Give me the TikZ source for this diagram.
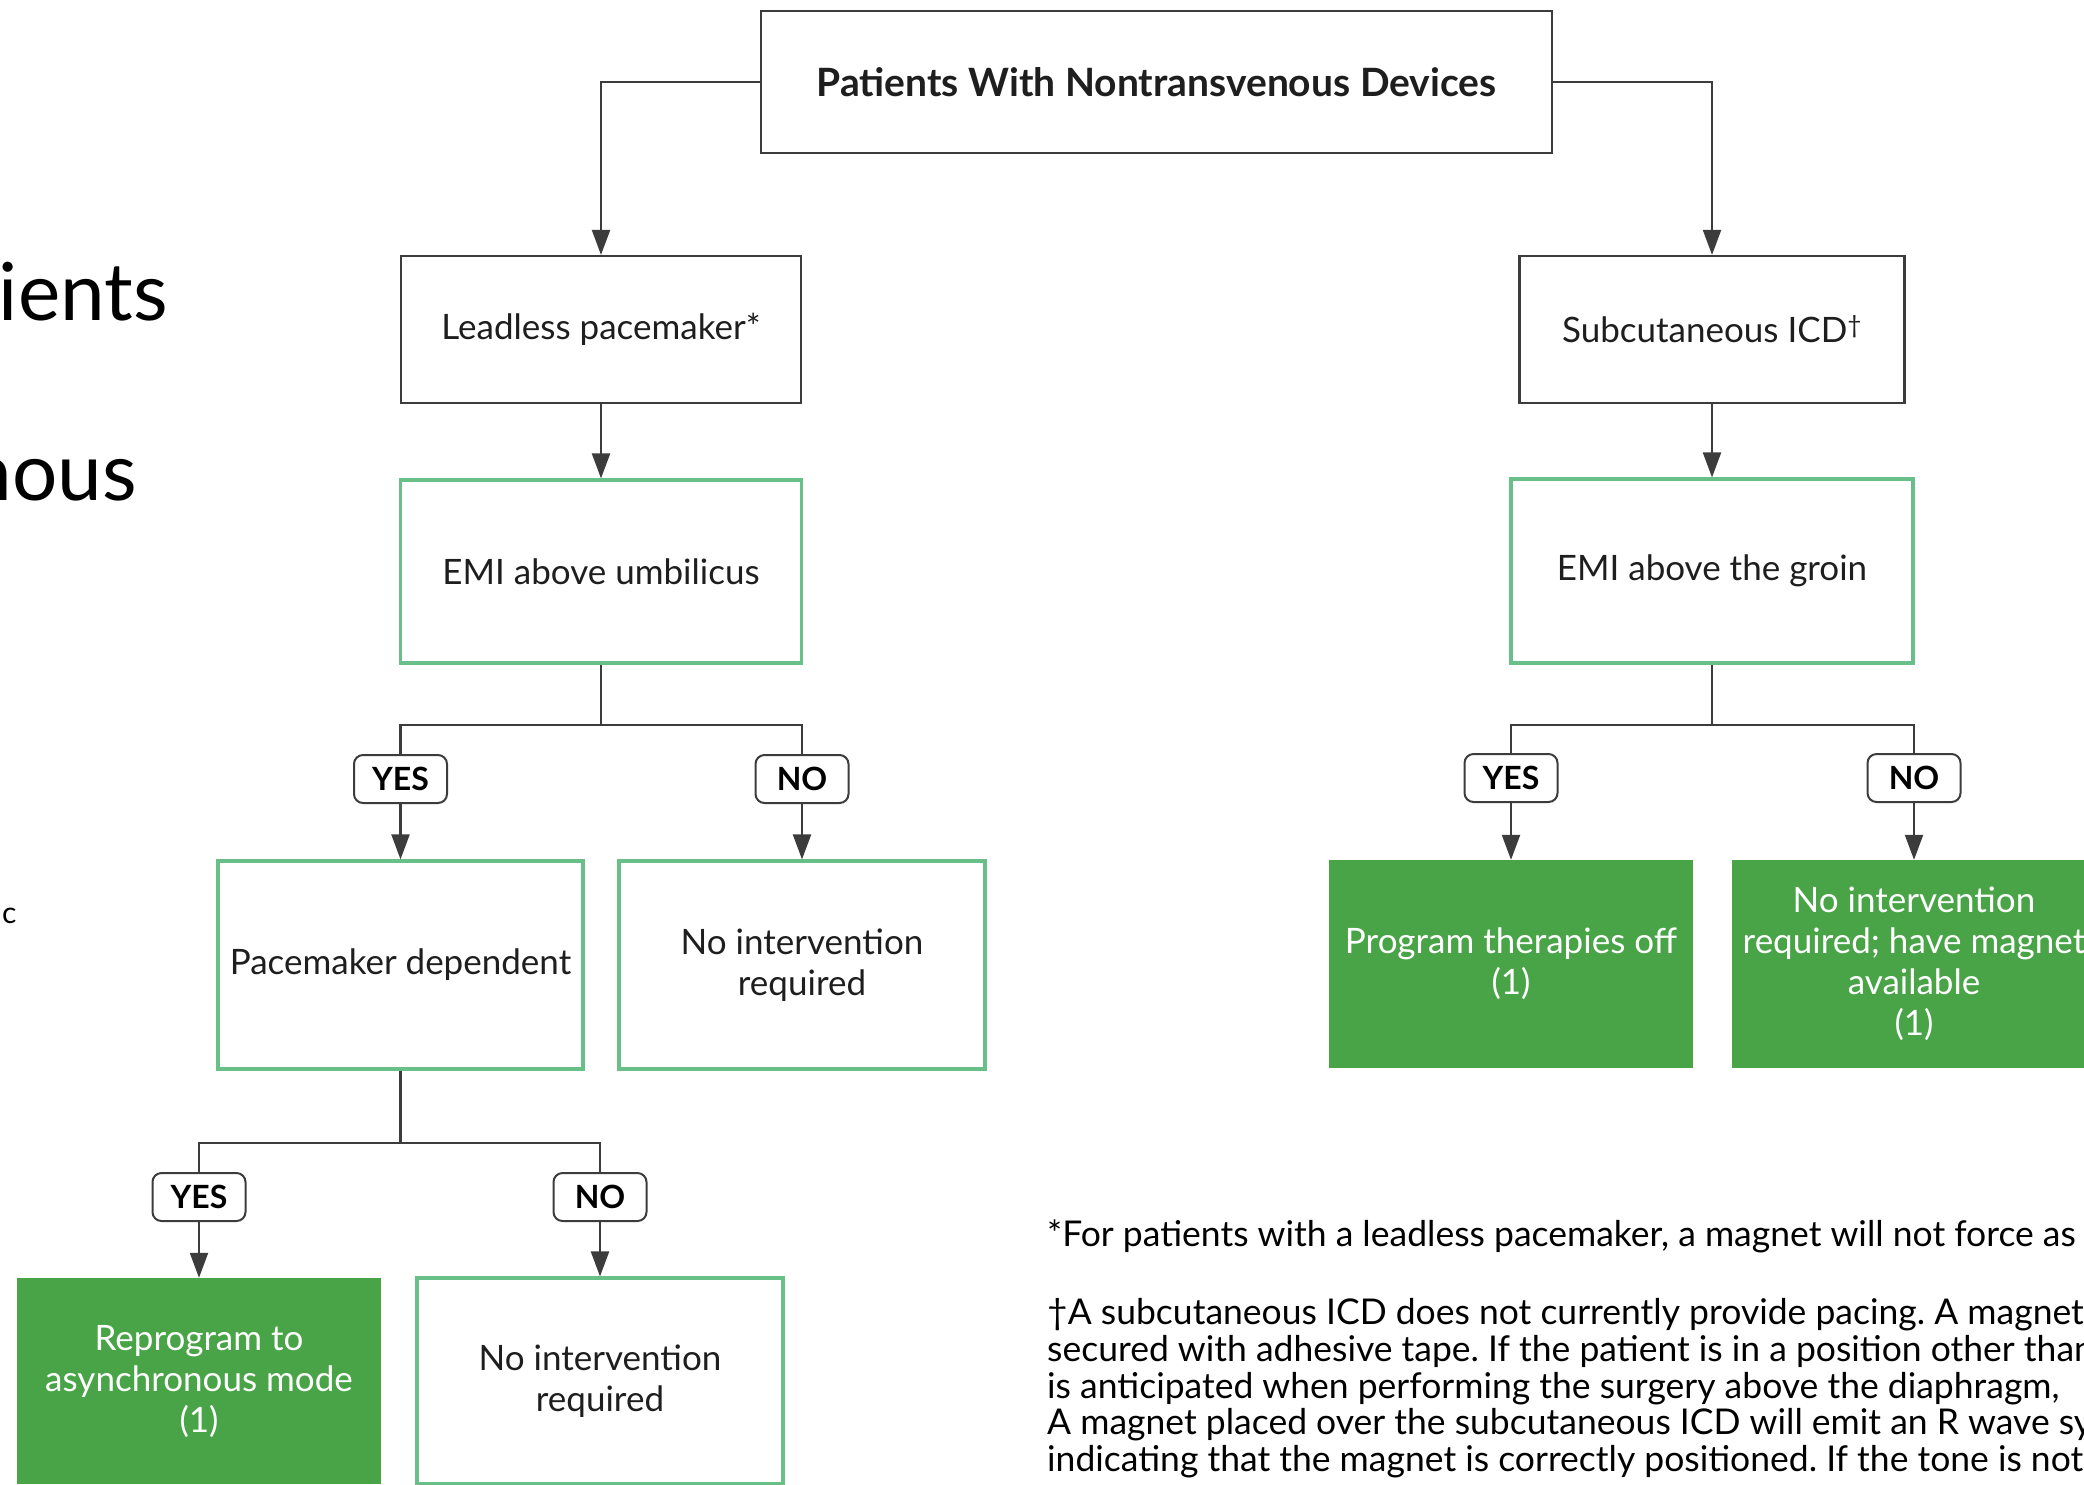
\documentclass[tikz,border=0pt]{standalone}
\usepackage{fontspec}
\setmainfont{Lato}
\usetikzlibrary{arrows.meta}
\definecolor{mint}{RGB}{104,192,136}
\definecolor{leaf}{RGB}{72,164,70}
\definecolor{ink}{RGB}{30,30,30}
\definecolor{linec}{RGB}{60,60,60}
\frenchspacing
\begin{document}
\begin{tikzpicture}[x=1pt,y=-1pt,
  boxtext/.style={align=center, inner sep=0pt, text=ink, font=\fontsize{35}{41}\selectfont},
  blackbox/.style={boxtext, draw=linec, line width=2.2pt, fill=white},
  greenbox/.style={boxtext, draw=mint, line width=3.2pt, fill=white},
  fillbox/.style={boxtext, draw=none, fill=leaf, text=white},
  lab/.style={draw=linec, line width=2pt, rounded corners=9pt, fill=white, minimum width=93pt, minimum height=48pt, inner sep=0pt, text=black, font=\bfseries\fontsize{32}{32}\selectfont},
  conn/.style={draw=linec, line width=2.2pt},
  arr/.style={conn, -{Triangle[width=18pt,length=25pt]}},
  fn/.style={anchor=base west, inner sep=0pt, text=black, font=\fontsize{35.5}{37}\selectfont},
  side/.style={inner sep=0pt, text=black},
]
\useasboundingbox (0,0) rectangle (2084,1484);
\clip (0,0) rectangle (2084,1484);
\fill[white] (0,0) rectangle (2084,1484);

% side fragments
\node[side, anchor=base east, font=\fontsize{80}{80}\selectfont] (t1) at (168,320) {ients};
\node[side, anchor=base east, font=\fontsize{80}{80}\selectfont] (t2) at (137,500) {nous};
\node[side, anchor=base west, font=\fontsize{30}{30}\selectfont] (t3) at (2,923) {c};

% boxes
\node[blackbox, minimum width=791pt, minimum height=142pt, font=\bfseries\fontsize{39}{44}\selectfont] (top) at (1156.5,82) {Patients With Nontransvenous Devices};
\node[blackbox, minimum width=400pt, minimum height=147pt] (lead) at (601,329.5) {Leadless pacemaker*};
\node[greenbox, minimum width=401pt, minimum height=183pt] (emiu) at (601,571.5) {EMI above umbilicus};
\node[blackbox, minimum width=385pt, minimum height=147pt] (subc) at (1712,329.5) {Subcutaneous ICD\textsuperscript{†}};
\node[greenbox, minimum width=402pt, minimum height=184pt] (emig) at (1712,571) {EMI above the groin};

\node[lab] (yes1) at (400.5,779) {YES};
\node[lab] (no1) at (802,779) {NO};
\node[greenbox, minimum width=365pt, minimum height=208pt] (pd) at (400.5,965) {Pacemaker dependent};
\node[greenbox, minimum width=366pt, minimum height=208pt] (ni1) at (802,965) {No intervention\\required};

\node[lab] (yes2) at (199,1197) {YES};
\node[lab] (no2) at (600,1197) {NO};
\node[fillbox, minimum width=364pt, minimum height=206pt] (rep) at (199,1381) {Reprogram to\\asynchronous mode\\(1)};
\node[greenbox, minimum width=366pt, minimum height=206pt] (ni2) at (600,1381) {No intervention\\required};

\node[lab] (yes3) at (1511,778) {YES};
\node[lab] (no3) at (1914,778) {NO};
\node[fillbox, minimum width=364pt, minimum height=208pt] (pto) at (1511,964) {Program therapies off\\(1)};
\node[fillbox, minimum width=364pt, minimum height=208pt] (nim) at (1914,964) {No intervention\\required; have magnet\\available\\(1)};

% connectors
\draw[arr] (top.west) -| (lead.north);
\draw[arr] (top.east) -| (subc.north);
\draw[arr] (lead.south) -- (emiu.north);
\draw[arr] (subc.south) -- (emig.north);

\coordinate (j1) at (601,725);
\draw[conn] (emiu.south) -- (j1);
\draw[conn] (yes1.north) |- (j1) -| (no1.north);
\draw[arr] (yes1.south) -- (pd.north);
\draw[arr] (no1.south) -- (ni1.north);

\coordinate (j2) at (400.5,1143);
\draw[conn] (pd.south) -- (j2);
\draw[conn] (yes2.north) |- (j2) -| (no2.north);
\draw[arr] (yes2.south) -- (rep.north);
\draw[arr] (no2.south) -- (ni2.north);

\coordinate (j3) at (1712,725);
\draw[conn] (emig.south) -- (j3);
\draw[conn] (yes3.north) |- (j3) -| (no3.north);
\draw[arr] (yes3.south) -- (pto.north);
\draw[arr] (no3.south) -- (nim.north);

% footnotes
\node[fn] (f1) at (1047,1246) {*For patients with a leadless pacemaker, a magnet will not force as};
\node[fn] (f2) at (1047,1324) {†A subcutaneous ICD does not currently provide pacing. A magnet,};
\node[fn] (f3) at (1047,1361) {secured with adhesive tape. If the patient is in a position other than};
\node[fn] (f4) at (1047,1398) {is anticipated when performing the surgery above the diaphragm,};
\node[fn] (f5) at (1047,1434) {A magnet placed over the subcutaneous ICD will emit an R wave sy};
\node[fn] (f6) at (1047,1471) {indicating that the magnet is correctly positioned. If the tone is not};
\end{tikzpicture}
\end{document}
